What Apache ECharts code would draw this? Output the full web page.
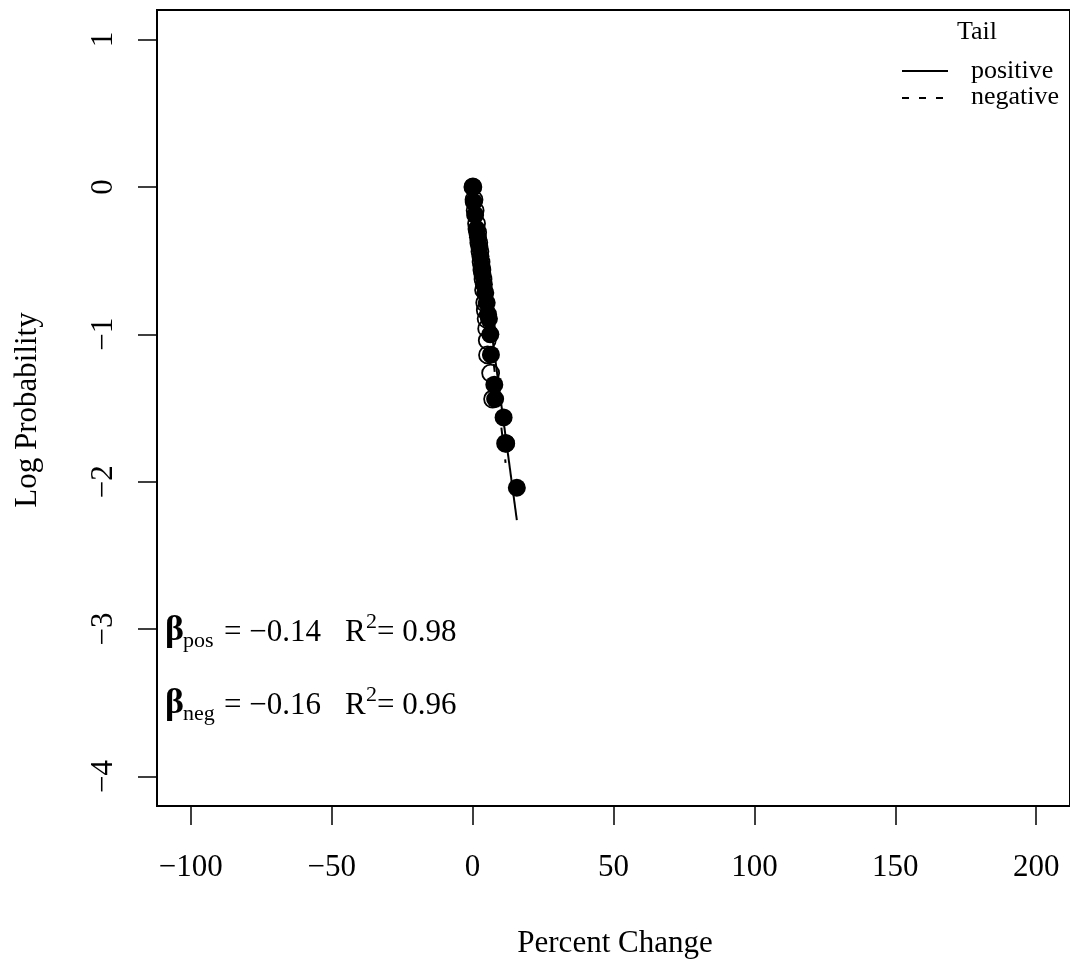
<!DOCTYPE html>
<html>
<head>
<meta charset="utf-8">
<script src="https://cdn.jsdelivr.net/npm/echarts@6/dist/echarts.min.js"></script>
<style>html,body{margin:0;padding:0;background:#fff}#c{width:1070px;height:967px}</style>
</head>
<body>
<div id="c"></div>
<script>
// Positive tail (filled points): [percent change, log probability]
var posX = [0.1, 0.4, 0.9, 1.4, 1.9, 2.4, 2.8, 3.2, 3.5, 4.0, 4.5, 5.0, 5.5, 5.8, 6.3, 6.5, 7.7, 8.0, 11.0, 11.9, 15.7];
var posY = [0, -0.102, -0.19, -0.286, -0.342, -0.408, -0.473, -0.536, -0.594, -0.661, -0.719, -0.786, -0.865, -0.895, -1.0, -1.138, -1.342, -1.439, -1.564, -1.740, -2.041];
// Negative tail (open points), absolute percent change
var negX = [0.1, 0.5, 0.9, 1.4, 1.8, 2.2, 2.6, 3.0, 3.3, 3.7, 3.9, 4.3, 4.5, 4.8, 5.0, 5.2, 5.3, 6.4, 7.1, 11.7];
var negY = [0, -0.087, -0.161, -0.249, -0.309, -0.379, -0.439, -0.510, -0.564, -0.626, -0.699, -0.786, -0.837, -0.895, -0.962, -1.041, -1.140, -1.263, -1.439, -1.740];
// Fitted lines
var posFitX = [0.1, 15.7];
var posFitY = [-0.04, -2.26];
var negFitX = [0.1, 11.7];
var negFitY = [-0.016, -1.872];
// Axis ticks
var xTicks = [-100, -50, 0, 50, 100, 150, 200];
var yTicks = [-4, -3, -2, -1, 0, 1];
var legendItems = ['positive', 'negative'];
var stats = [{name: 'pos', beta: '\u22120.14', r2: '0.98'}, {name: 'neg', beta: '\u22120.16', r2: '0.96'}];

function zip(a, b) { return a.map(function (v, i) { return [v, b[i]]; }); }
function fmt(v) { return v < 0 ? '\u2212' + Math.abs(v) : String(v); }

var FONT = '"Liberation Serif", "DejaVu Serif", serif';
var FS = 31;
var LFS = 26;

var graphics = [];
// Axis titles
graphics.push({type: 'text', x: 615, y: 944, style: {text: 'Percent Change', font: FS + 'px ' + FONT, fill: '#000', align: 'center', verticalAlign: 'middle'}});
graphics.push({type: 'text', x: 28, y: 410, rotation: Math.PI / 2, style: {text: 'Log Probability', font: FS + 'px ' + FONT, fill: '#000', align: 'center', verticalAlign: 'middle'}});
// Legend
graphics.push({type: 'text', x: 977, y: 32, style: {text: 'Tail', font: LFS + 'px ' + FONT, fill: '#000', align: 'center', verticalAlign: 'middle'}});
graphics.push({type: 'line', shape: {x1: 902, y1: 71, x2: 948, y2: 71}, style: {stroke: '#000', lineWidth: 2}});
graphics.push({type: 'line', shape: {x1: 902, y1: 98, x2: 948, y2: 98}, style: {stroke: '#000', lineWidth: 2, lineDash: [7, 10]}});
graphics.push({type: 'text', x: 971, y: 71, style: {text: legendItems[0], font: LFS + 'px ' + FONT, fill: '#000', align: 'left', verticalAlign: 'middle'}});
graphics.push({type: 'text', x: 971, y: 97, style: {text: legendItems[1], font: LFS + 'px ' + FONT, fill: '#000', align: 'left', verticalAlign: 'middle'}});
// Stats annotation
stats.forEach(function (s, i) {
  var base = 633 + i * 73;
  graphics.push({type: 'text', x: 165, y: base - 2, style: {text: '\u03b2', font: 'bold 36px ' + FONT, fill: '#000', align: 'left', verticalAlign: 'middle'}});
  graphics.push({type: 'text', x: 183, y: base + 8, style: {text: s.name, font: '22px ' + FONT, fill: '#000', align: 'left', verticalAlign: 'middle'}});
  graphics.push({type: 'text', x: 224, y: base, style: {text: '= ' + s.beta, font: FS + 'px ' + FONT, fill: '#000', align: 'left', verticalAlign: 'middle'}});
  graphics.push({type: 'text', x: 345, y: base, style: {text: 'R', font: FS + 'px ' + FONT, fill: '#000', align: 'left', verticalAlign: 'middle'}});
  graphics.push({type: 'text', x: 366, y: base - 11, style: {text: '2', font: '22px ' + FONT, fill: '#000', align: 'left', verticalAlign: 'middle'}});
  graphics.push({type: 'text', x: 377, y: base, style: {text: '= ' + s.r2, font: FS + 'px ' + FONT, fill: '#000', align: 'left', verticalAlign: 'middle'}});
});

var chart = echarts.init(document.getElementById('c'), null, {renderer: 'canvas'});
chart.setOption({
  animation: false,
  backgroundColor: '#fff',
  textStyle: {fontFamily: FONT},
  grid: {left: 157, top: 10, width: 916, height: 796, show: true, borderColor: '#000', borderWidth: 2, backgroundColor: 'transparent', containLabel: false},
  xAxis: {
    type: 'value', min: -112, max: 212,
    splitLine: {show: false},
    axisLine: {show: true, onZero: false, lineStyle: {color: '#000', width: 2}},
    axisTick: {show: true, inside: false, length: 19, customValues: xTicks, lineStyle: {color: '#000', width: 1.5}},
    axisLabel: {show: true, margin: 46, customValues: xTicks, formatter: fmt, color: '#000', fontSize: FS, fontFamily: FONT}
  },
  yAxis: {
    type: 'value', min: -4.2, max: 1.2,
    splitLine: {show: false},
    axisLine: {show: true, onZero: false, lineStyle: {color: '#000', width: 2}},
    axisTick: {show: true, inside: false, length: 19, customValues: yTicks, lineStyle: {color: '#000', width: 1.5}},
    axisLabel: {show: true, margin: 38, rotate: 90, customValues: yTicks, formatter: fmt, color: '#000', fontSize: FS, fontFamily: FONT}
  },
  series: [
    {type: 'line', data: zip(negFitX, negFitY), symbol: 'none', lineStyle: {color: '#000', width: 2, type: [8, 8]}, z: 2},
    {type: 'line', data: zip(posFitX, posFitY), symbol: 'none', lineStyle: {color: '#000', width: 2}, z: 2},
    {type: 'scatter', data: zip(negX, negY), symbol: 'circle', symbolSize: 17, itemStyle: {color: 'rgba(0,0,0,0)', borderColor: '#000', borderWidth: 1.8, opacity: 1}, z: 3},
    {type: 'scatter', data: zip(posX, posY), symbol: 'circle', symbolSize: 18, itemStyle: {color: '#000', borderColor: '#000', borderWidth: 0, opacity: 1}, z: 4}
  ],
  graphic: graphics
});
</script>
</body>
</html>
